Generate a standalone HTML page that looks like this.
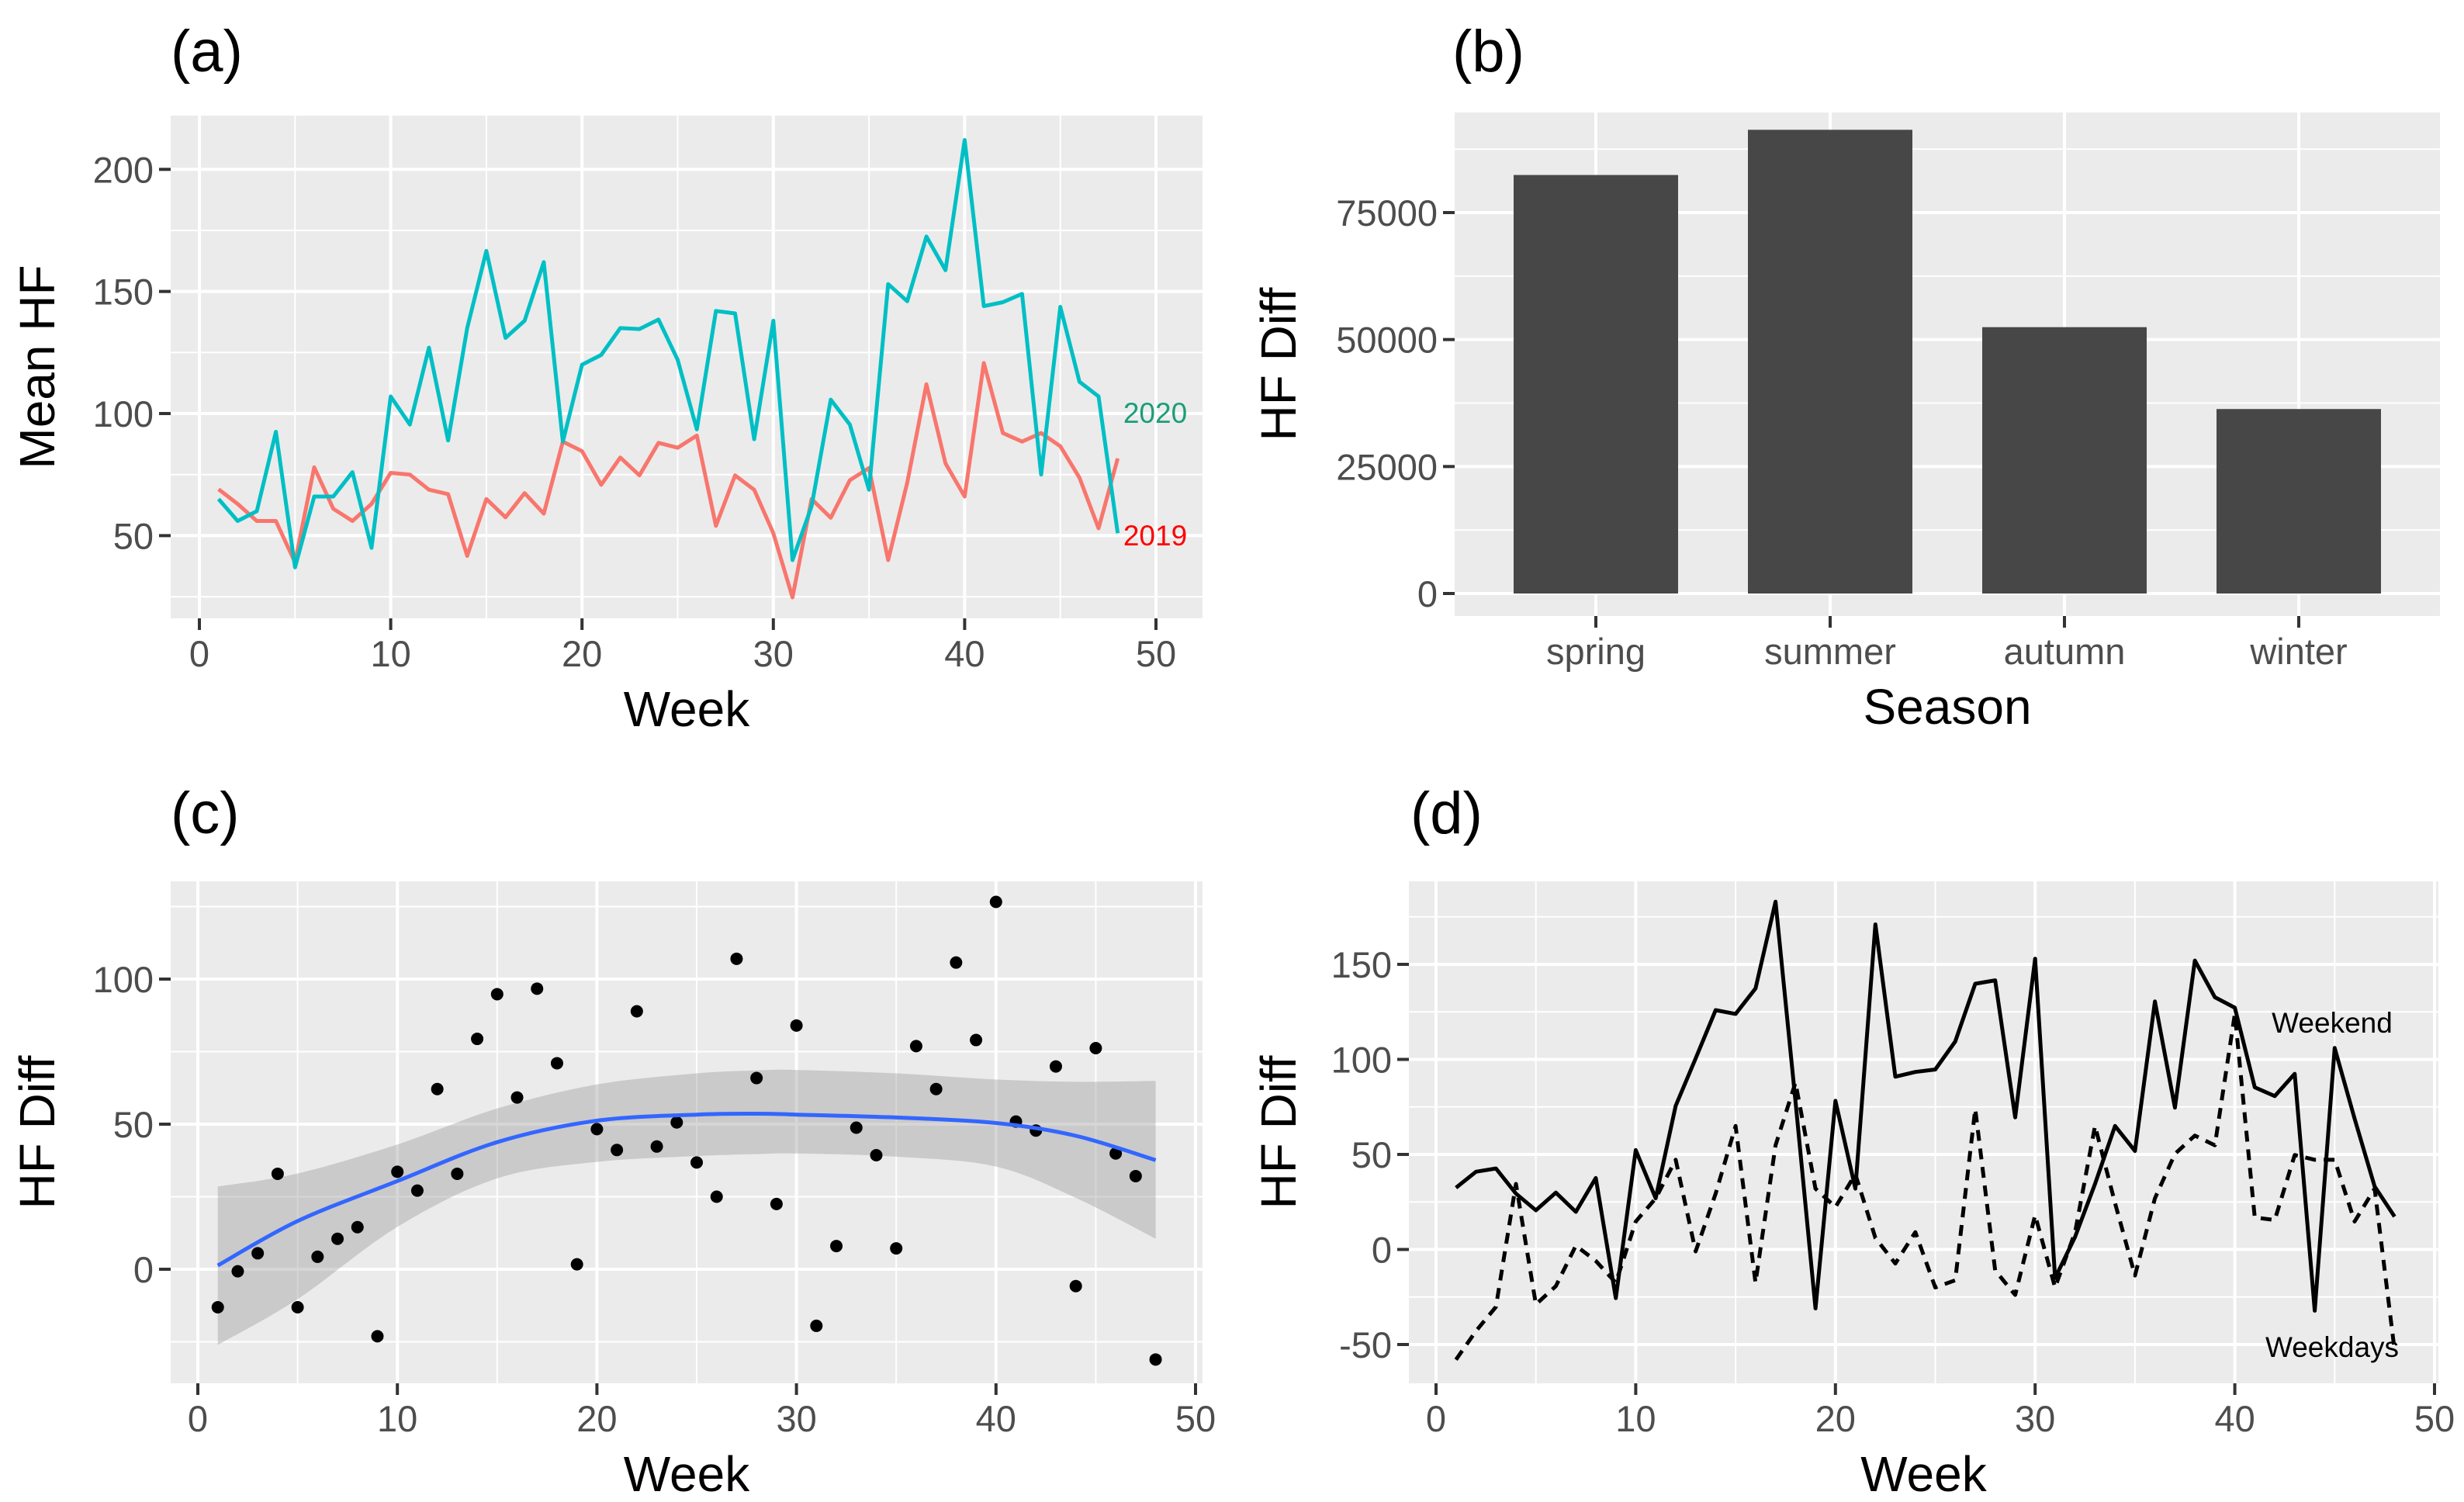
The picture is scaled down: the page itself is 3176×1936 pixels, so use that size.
<!DOCTYPE html>
<html><head><meta charset="utf-8"><style>
html,body{margin:0;padding:0;background:#fff;}
svg{display:block;font-family:"Liberation Sans",Arial,sans-serif;}
</style></head><body>
<svg id="fig" width="3176" height="1936" viewBox="0 0 3176 1936" xmlns="http://www.w3.org/2000/svg"></svg>
<script>
// ---- data ----
const weeks = [];
for (let i = 1; i <= 48; i++) weeks.push(i);
const meanHF2019 = [69,63,56,56,39,78,61,56,63,75.7,75,68.8,67,41.7,65,57.5,67.4,59,88.5,84.6,70.8,82,74.7,88,86,91,54,74.7,68.8,51,24.7,65,57.3,72.7,77.7,40,71.7,112,79.6,66,120.7,92,88.5,92,86.6,73.7,53,81.6];
const meanHF2020 = [65,56,60,92.5,37,66,66,76,45,107,95.5,127,89,135,166.6,131,138,162,88.5,120,124,135,134.6,138.5,122,93.5,142,141,89.5,138,40,62,105.7,95.5,68.8,153,146,172.5,158.7,212,144,145.6,149,75,143.7,113,107,51];
const seasons = ["spring","summer","autumn","winter"];
const seasonDiff = [82400,91300,52440,36320];
const hfDiffPoints = [-13.1,-0.7,5.5,32.9,-13.1,4.3,10.5,14.5,-23.1,33.6,27.1,62.1,32.9,79.4,94.8,59.2,96.7,71,1.7,48.3,41.1,88.9,42.3,50.6,36.8,25,107,65.9,22.5,84,-19.5,8,48.8,39.3,7.2,76.9,62.1,105.7,79,126.6,50.9,47.8,69.9,-5.8,76.2,39.9,32.1,-31.1];
const smoothWeeks = [1,5,10,15,20,25,28,30,35,40,44,48];
const smoothFit = [1.3,16.6,30.4,43.8,51.2,53.3,53.6,53.3,52.3,50.4,46,37.6];
const smoothUpper = [28.5,33,43,55.4,63.7,67.5,68.5,68.7,67.5,65.4,64.6,64.9];
const smoothLower = [-26.1,-10.3,14.6,31.3,37,39,39.7,39.9,38.8,35.4,24.6,10.5];
const weekendDiff = [32.5,40.9,42.6,29.4,20.6,29.9,19.8,37.6,-25.6,52.3,26.9,75.6,100.5,125.9,123.9,137.3,183,78,-31,78.2,32,171,90.9,93.4,94.7,109.4,139.8,141.6,69.5,153,-15,6.6,34.5,65,51.8,130.5,74.6,152,132.7,127.2,85.3,80.7,92.4,-32.2,106,68.8,33.2,17.3];
const weekdayDiff = [-58,-42.9,-30.2,34.5,-28.9,-19.3,2,-6,-17.5,14.7,26.9,47.2,-1,29.4,65,-17.5,54.8,87.8,32,22.3,39.6,6.1,-7.4,9.1,-20,-16.2,73.9,-11,-23.9,18,-20,9.1,65,24.4,-13.7,26.9,50.3,59.9,54.8,123.9,16.8,15.5,49.7,47.2,47.2,14.7,32,-53];
const weekTicks = [0,10,20,30,40,50];
const weekMinor = [5,15,25,35,45];
const aTicks = [50,100,150,200]; const aMinor = [25,75,125,175];
const bTicks = [0,25000,50000,75000]; const bMinor = [12500,37500,62500,87500];
const cTicks = [0,50,100]; const cMinor = [-25,25,75,125];
const dTicks = [-50,0,50,100,150]; const dMinor = [-25,25,75,125,175];

// ---- helpers ----
const NS = "http://www.w3.org/2000/svg";
const svg = document.getElementById("fig");
function mk(tag, attrs, parent) {
  const e = document.createElementNS(NS, tag);
  for (const k in attrs) e.setAttribute(k, attrs[k]);
  (parent || svg).appendChild(e);
  return e;
}
function lin(d0, d1, r0, r1) { return v => r0 + (v - d0) * (r1 - r0) / (d1 - d0); }

function panel(cfg) {
  const g = mk("g", {});
  
  
  const bg = mk("rect", {x: cfg.L, y: cfg.T, width: cfg.R - cfg.L, height: cfg.B - cfg.T, fill: "#EBEBEB"}, g);
  
  
  cfg.yMinor.forEach(v => { const y = cfg.ys(v); if (y > cfg.T && y < cfg.B) mk("line", {x1: cfg.L, x2: cfg.R, y1: y, y2: y, stroke: "#fff", "stroke-width": 2}, g); });
  (cfg.xMinor || []).forEach(v => { const x = cfg.xs(v); mk("line", {x1: x, x2: x, y1: cfg.T, y2: cfg.B, stroke: "#fff", "stroke-width": 2}, g); });
  cfg.yTicks.forEach(v => { const y = cfg.ys(v); mk("line", {x1: cfg.L, x2: cfg.R, y1: y, y2: y, stroke: "#fff", "stroke-width": 4}, g); });
  cfg.xTickPos.forEach(x => { mk("line", {x1: x, x2: x, y1: cfg.T, y2: cfg.B, stroke: "#fff", "stroke-width": 4}, g); });
  cfg.yTicks.forEach(v => {
    const y = cfg.ys(v);
    mk("line", {x1: cfg.L - 15, x2: cfg.L, y1: y, y2: y, stroke: "#333", "stroke-width": 4}, g);
    const t = mk("text", {x: cfg.L - 22, y: y + 17, "text-anchor": "end", "font-size": 47, fill: "#4D4D4D"}, g);
    t.textContent = v;
    
    
  });
  cfg.xTickPos.forEach((x, i) => {
    mk("line", {x1: x, x2: x, y1: cfg.B, y2: cfg.B + 15, stroke: "#333", "stroke-width": 4}, g);
    const t = mk("text", {x: x, y: cfg.B + 62, "text-anchor": "middle", "font-size": 47, fill: "#4D4D4D"}, g);
    t.textContent = cfg.xLabels[i];
    
    
  });
  const xt = mk("text", {x: (cfg.L + cfg.R) / 2, y: cfg.B + 139, "text-anchor": "middle", "font-size": 64, fill: "#000"}, g);
  xt.textContent = cfg.xTitle;
  
  
  const yc = (cfg.T + cfg.B) / 2;
  const yt = mk("text", {x: cfg.yTitleX, y: yc, "text-anchor": "middle", "font-size": 64, fill: "#000", transform: `rotate(-90 ${cfg.yTitleX} ${yc})`}, g);
  yt.textContent = cfg.yTitle;
  
  
  const tg = mk("text", {x: cfg.tagX, y: cfg.tagY, "font-size": 76, fill: "#000"}, g);
  tg.textContent = cfg.tag;
  
  
  return g;
}
function pathD(xs, ys, xv, yv) { return xv.map((x, i) => (i ? "L" : "M") + xs(x).toFixed(1) + "," + ys(yv[i]).toFixed(1)).join(" "); }

// ---- panel a ----
{
  const cfg = {name: "panel-a-mean-hf", L: 220, R: 1550, T: 149, B: 797,
    xs: lin(0, 50, 257, 1490), ys: lin(50, 200, 690.4, 218.3),
    yTicks: aTicks, yMinor: aMinor, xMinor: weekMinor, xTitle: "Week", yTitle: "Mean HF", yTitleX: 70, tag: "(a)", tagX: 220, tagY: 92};
  cfg.xTickPos = weekTicks.map(cfg.xs); cfg.xLabels = weekTicks;
  const g = panel(cfg);
  const l19 = mk("path", {d: pathD(cfg.xs, cfg.ys, weeks, meanHF2019), fill: "none", stroke: "#F8766D", "stroke-width": 5, "stroke-linejoin": "round"}, g);
  
  
  const l20 = mk("path", {d: pathD(cfg.xs, cfg.ys, weeks, meanHF2020), fill: "none", stroke: "#00BFC4", "stroke-width": 5, "stroke-linejoin": "round"}, g);
  
  
  const a = mk("text", {x: 1489, y: 545, "text-anchor": "middle", "font-size": 37, fill: "#1B9E77"}, g);
  a.textContent = "2020";
  
  
  const b = mk("text", {x: 1489, y: 703, "text-anchor": "middle", "font-size": 37, fill: "#FF0000"}, g);
  b.textContent = "2019";
  
  
}
// ---- panel b ----
{
  const step = 302, first = 2057;
  const cfg = {name: "panel-b-season-bars", L: 1875, R: 3145, T: 145, B: 794,
    ys: lin(0, 75000, 765, 274), yTicks: bTicks, yMinor: bMinor, xTitle: "Season", yTitle: "HF Diff", yTitleX: 1670, tag: "(b)", tagX: 1872, tagY: 92};
  const xc = i => first + i * step;
  cfg.xTickPos = seasons.map((s, i) => xc(i)); cfg.xLabels = seasons;
  const g = panel(cfg);
  seasonDiff.forEach((v, i) => {
    const r = mk("rect", {x: xc(i) - 106, y: cfg.ys(v), width: 212, height: cfg.ys(0) - cfg.ys(v), fill: "#474747"}, g);
    
    
  });
}
// ---- panel c ----
{
  const cfg = {name: "panel-c-hf-diff-smooth", L: 220, R: 1550, T: 1136, B: 1783,
    xs: lin(0, 50, 255, 1541), ys: lin(0, 100, 1636, 1262),
    yTicks: cTicks, yMinor: cMinor, xMinor: weekMinor, xTitle: "Week", yTitle: "HF Diff", yTitleX: 70, tag: "(c)", tagX: 220, tagY: 1074};
  cfg.xTickPos = weekTicks.map(cfg.xs); cfg.xLabels = weekTicks;
  const g = panel(cfg);
  function smoothPath(xv, yv, start) {
    const P = xv.map((x, i) => [cfg.xs(x), cfg.ys(yv[i])]);
    let d = (start ? "M" : "L") + P[0][0].toFixed(1) + "," + P[0][1].toFixed(1);
    for (let i = 0; i < P.length - 1; i++) {
      const p0 = P[Math.max(i - 1, 0)], p1 = P[i], p2 = P[i + 1], p3 = P[Math.min(i + 2, P.length - 1)];
      const c1 = [p1[0] + (p2[0] - p0[0]) / 6, p1[1] + (p2[1] - p0[1]) / 6];
      const c2 = [p2[0] - (p3[0] - p1[0]) / 6, p2[1] - (p3[1] - p1[1]) / 6];
      d += " C" + c1.map(n => n.toFixed(1)).join(",") + " " + c2.map(n => n.toFixed(1)).join(",") + " " + p2.map(n => n.toFixed(1)).join(",");
    }
    return d;
  }
  const revX = smoothWeeks.slice().reverse(), revL = smoothLower.slice().reverse();
  const rib = mk("path", {d: smoothPath(smoothWeeks, smoothUpper, true) + " " + smoothPath(revX, revL, false) + " Z", fill: "#999999", "fill-opacity": 0.4}, g);
  
  
  weeks.forEach((w, i) => {
    const c = mk("circle", {cx: cfg.xs(w), cy: cfg.ys(hfDiffPoints[i]), r: 8, fill: "#000"}, g);
    
    
  });
  const fit = mk("path", {d: smoothPath(smoothWeeks, smoothFit, true), fill: "none", stroke: "#3366FF", "stroke-width": 5}, g);
  
  
}
// ---- panel d ----
{
  const cfg = {name: "panel-d-weekend-weekday", L: 1816, R: 3143, T: 1136, B: 1783,
    xs: lin(0, 50, 1851, 3138), ys: lin(-50, 150, 1733, 1243),
    yTicks: dTicks, yMinor: dMinor, xMinor: weekMinor, xTitle: "Week", yTitle: "HF Diff", yTitleX: 1670, tag: "(d)", tagX: 1818, tagY: 1074};
  cfg.xTickPos = weekTicks.map(cfg.xs); cfg.xLabels = weekTicks;
  const g = panel(cfg);
  const wd = mk("path", {d: pathD(cfg.xs, cfg.ys, weeks, weekdayDiff), fill: "none", stroke: "#000", "stroke-width": 5, "stroke-dasharray": "14,10", "stroke-linejoin": "round"}, g);
  
  
  const we = mk("path", {d: pathD(cfg.xs, cfg.ys, weeks, weekendDiff), fill: "none", stroke: "#000", "stroke-width": 5, "stroke-linejoin": "round"}, g);
  
  
  const a = mk("text", {x: 3006, y: 1331, "text-anchor": "middle", "font-size": 37, fill: "#000"}, g);
  a.textContent = "Weekend";
  
  
  const b = mk("text", {x: 3006, y: 1749, "text-anchor": "middle", "font-size": 37, fill: "#000"}, g);
  b.textContent = "Weekdays";
  
  
}
</script>
</body></html>
